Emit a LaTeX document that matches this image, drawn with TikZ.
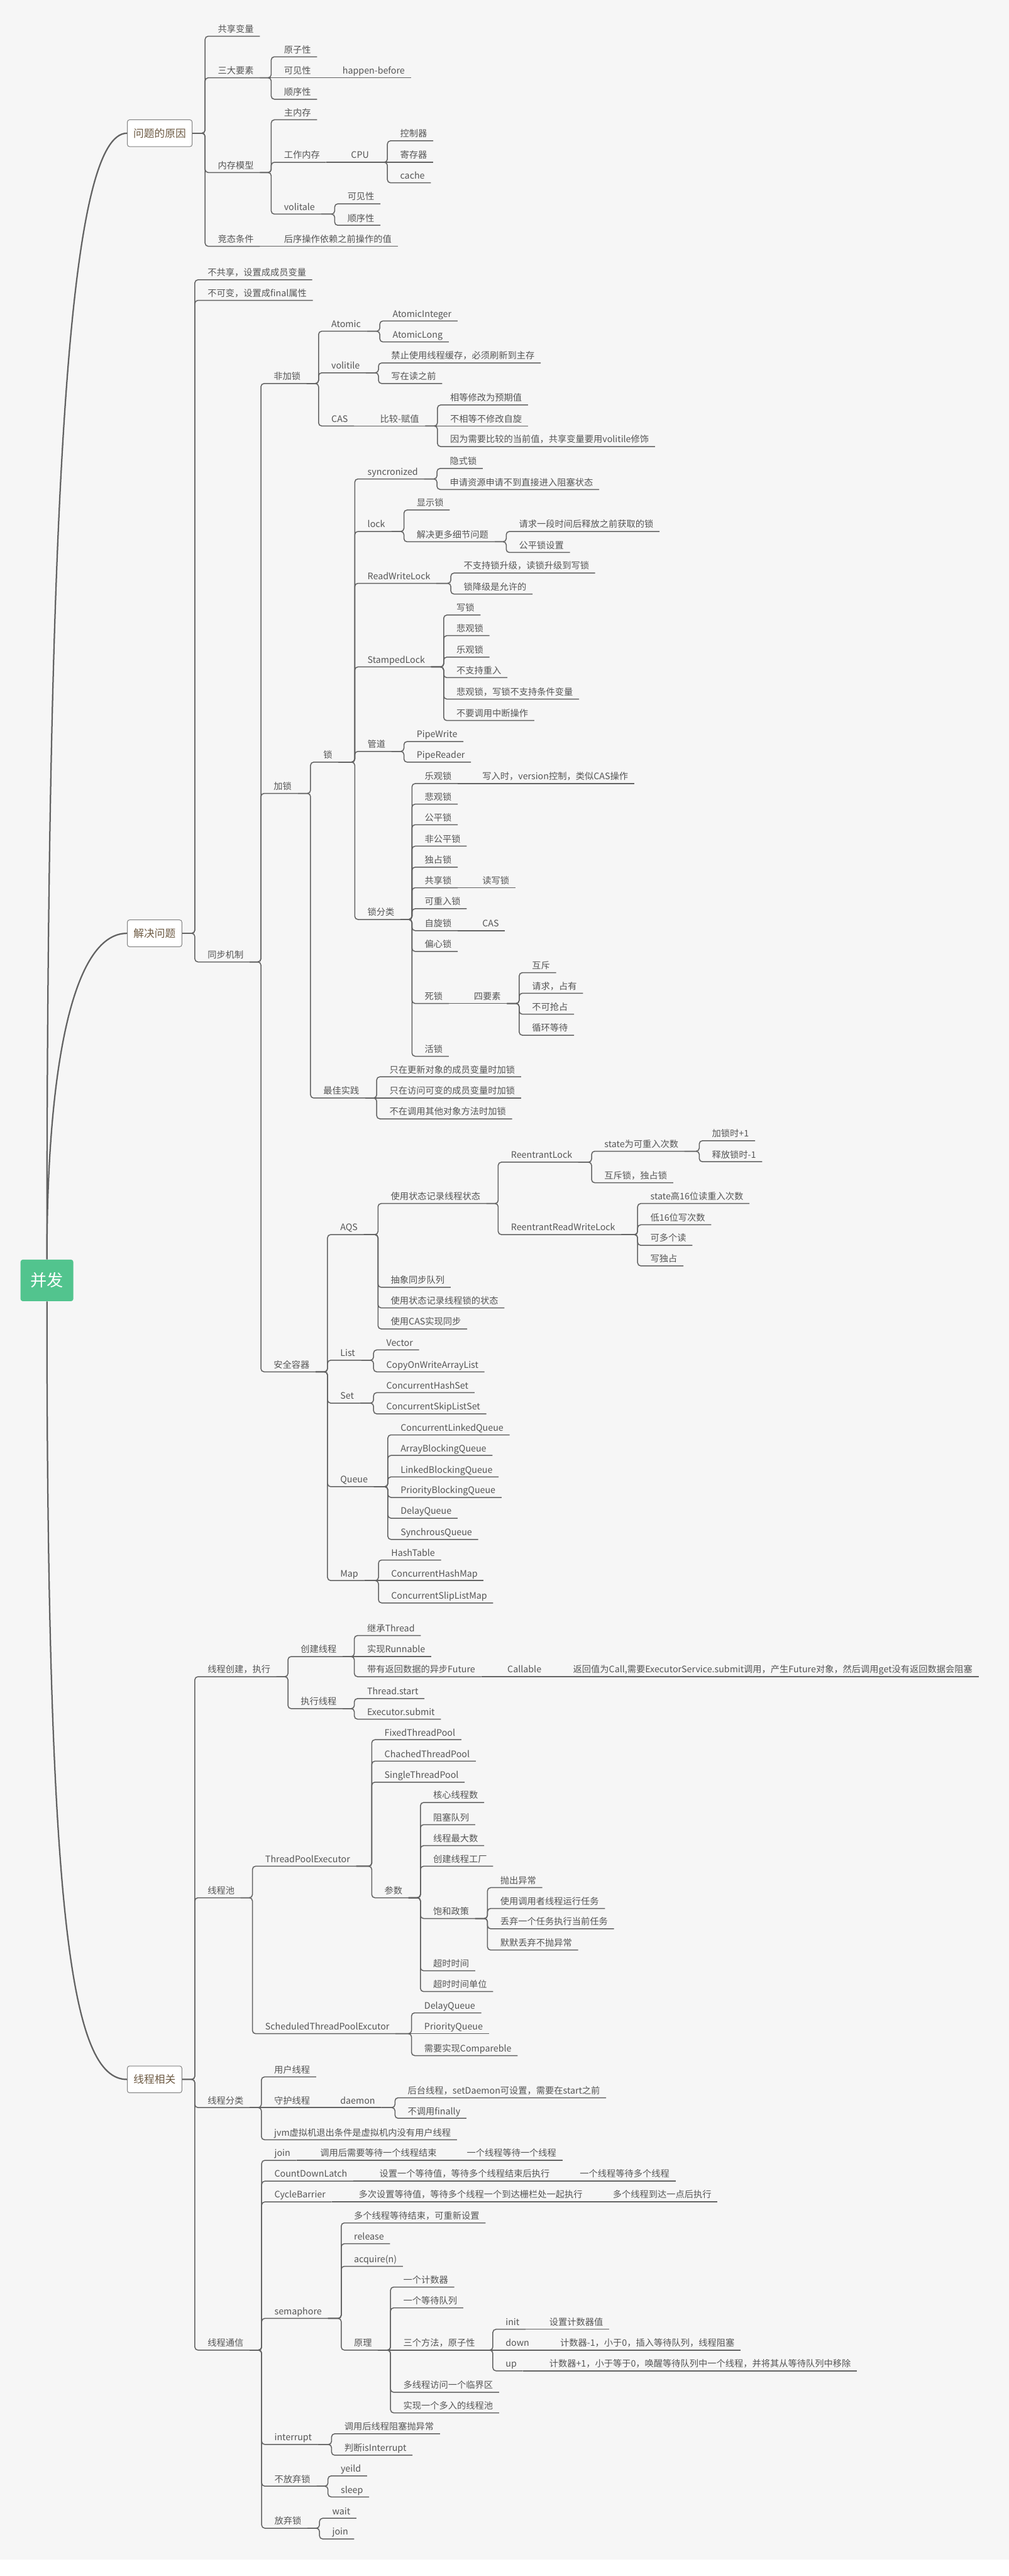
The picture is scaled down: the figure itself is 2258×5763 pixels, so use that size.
\documentclass[tikz,border=0pt]{standalone}
\usepackage{fontspec}
\setmainfont{Noto Sans CJK SC}
\definecolor{bgc}{HTML}{F6F6F6}
\definecolor{lnc}{HTML}{626262}
\definecolor{txc}{HTML}{555555}
\definecolor{brc}{HTML}{6E5B44}
\definecolor{grc}{HTML}{52C48E}
\newlength\pu
\setlength\pu{0.01cm}
\begin{document}
\begin{tikzpicture}[x=0.01cm, y=-0.01cm, every node/.style={font=\fontsize{5.7}{6.8}\selectfont, text=txc},
	lf/.style={anchor=south west, inner xsep=0pt, inner ysep=4\pu, text height=15\pu, text depth=4\pu, execute at begin node={\hspace*{28\pu}}, execute at end node={\hspace*{13\pu}}},
	box/.style={draw=lnc!80, line width=0.4pt, fill=white, rounded corners=5\pu, minimum height=60\pu, font=\fontsize{6.7}{8}\selectfont, text=brc},
	conn/.style={draw=lnc, line width=0.6pt},
	tobar/.style={conn, rounded corners=7\pu, to path={-| (\tikztotarget.south west) -- (\tikztotarget.south east)}},
	toline/.style={conn, to path={-- (\tikztotarget.south east)}},
	trunk/.style={draw=lnc, line width=0.9pt}]
	\useasboundingbox (0,0) rectangle (2258,5763);
	\fill[white] (0,0) rectangle (2258,5763);
	\fill[bgc] (0,0) rectangle (2258,5726);
	\node[fill=grc, rounded corners=5\pu, minimum width=118\pu, minimum height=93\pu, text=white, font=\fontsize{10.5}{12}\selectfont] (bf) at (105,2864.5) {并发};
	\node[box, minimum width=145\pu] (yy) at (357.5,298) {问题的原因};
	\node[box, minimum width=122\pu] (jj) at (346,2088) {解决问题};
	\node[box, minimum width=122\pu] (xc) at (346,4652) {线程相关};
	\draw[trunk] (bf.north) .. controls (105,1000) and (160,298) .. (yy.west);
	\draw[trunk] (bf.north) .. controls (105,2400) and (160,2088) .. (jj.west);
	\draw[trunk] (bf.south) .. controls (105,4300) and (160,4652) .. (xc.west);

	\foreach \n/\y/\t in {y1/81/共享变量, y2/174/三大要素, y3/386/内存模型, y4/551/竞态条件}
		{\node[lf] (\n) at (459,\y) {\t}; \draw[tobar] (yy.east) to (\n);}
	\node[lf] (y4a) at (607,551) {后序操作依赖之前操作的值}; \draw[toline] (y4.south east) to (y4a);
	\foreach \n/\y/\t in {y2a/127/原子性, y2c/222/顺序性}
		{\node[lf] (\n) at (607,\y) {\t}; \draw[tobar] (y2.south east) to (\n);}
	\node[lf] (y2b) at (607,174) {可见性}; \draw[toline] (y2.south east) to (y2b);
	\node[lf] (y2d) at (738,174) {happen-before}; \draw[toline] (y2b.south east) to (y2d);
	\foreach \n/\y/\t in {y3a/268/主内存, y3b/363/工作内存, y3c/479/volitale}
		{\node[lf] (\n) at (607,\y) {\t}; \draw[tobar] (y3.south east) to (\n);}
	\node[lf] (cpu) at (757,363) {CPU}; \draw[toline] (y3b.south east) to (cpu);
	\foreach \n/\y/\t in {cpu1/315/控制器, cpu3/409/cache}
		{\node[lf] (\n) at (867,\y) {\t}; \draw[tobar] (cpu.south east) to (\n);}
	\node[lf] (cpu2) at (867,363) {寄存器}; \draw[toline] (cpu.south east) to (cpu2);
	\foreach \n/\y/\t in {vo1/456/可见性, vo2/504/顺序性}
		{\node[lf] (\n) at (749,\y) {\t}; \draw[tobar] (y3c.south east) to (\n);}

	\foreach \n/\y/\t in {j1/626/不共享，设置成成员变量, j2/672/不可变，设置成final属性, j3/2152/同步机制}
		{\node[lf] (\n) at (436,\y) {\t}; \draw[tobar] (jj.east) to (\n);}
	\foreach \n/\y/\t in {fs/858/非加锁, js/1775/加锁, aq/3069/安全容器}
		{\node[lf] (\n) at (584,\y) {\t}; \draw[tobar] (j3.south east) to (\n);}
	\foreach \n/\y/\t in {fs1/741/Atomic, fs2/834/volitile, fs3/953/CAS}
		{\node[lf] (\n) at (713,\y) {\t}; \draw[tobar] (fs.south east) to (\n);}
	\foreach \n/\y/\t in {at1/718/AtomicInteger, at2/765/AtomicLong}
		{\node[lf] (\n) at (850,\y) {\t}; \draw[tobar] (fs1.south east) to (\n);}
	\foreach \n/\y/\t in {vl1/812/禁止使用线程缓存，必须刷新到主存, vl2/858/写在读之前}
		{\node[lf] (\n) at (847,\y) {\t}; \draw[tobar] (fs2.south east) to (\n);}
	\node[lf] (cas) at (822,953) {比较-赋值}; \draw[toline] (fs3.south east) to (cas);
	\foreach \n/\y/\t in {cas1/906/相等修改为预期值, cas3/999/因为需要比较的当前值，共享变量要用volitile修饰}
		{\node[lf] (\n) at (979,\y) {\t}; \draw[tobar] (cas.south east) to (\n);}
	\node[lf] (cas2) at (979,953) {不相等不修改自旋}; \draw[toline] (cas.south east) to (cas2);
	\foreach \n/\y/\t in {ls/1705/锁, zj/2456.5/最佳实践}
		{\node[lf] (\n) at (695,\y) {\t}; \draw[tobar] (js.south east) to (\n);}
	\foreach \n/\y/\t in {sy/1071.5/syncronized, lk/1189/lock, rw/1305/ReadWriteLock, sl/1492/StampedLock, gd/1681/管道, fl/2057/锁分类}
		{\node[lf] (\n) at (794,\y) {\t}; \draw[tobar] (ls.south east) to (\n);}
	\foreach \n/\y/\t in {sy1/1048/隐式锁, sy2/1095/申请资源申请不到直接进入阻塞状态}
		{\node[lf] (\n) at (978,\y) {\t}; \draw[tobar] (sy.south east) to (\n);}
	\foreach \n/\y/\t in {lk1/1141/显示锁, lk2/1212/解决更多细节问题}
		{\node[lf] (\n) at (904,\y) {\t}; \draw[tobar] (lk.south east) to (\n);}
	\foreach \n/\y/\t in {lk21/1189/请求一段时间后释放之前获取的锁, lk22/1236/公平锁设置}
		{\node[lf] (\n) at (1133,\y) {\t}; \draw[tobar] (lk2.south east) to (\n);}
	\foreach \n/\y/\t in {rw1/1282/不支持锁升级，读锁升级到写锁, rw2/1329/锁降级是允许的}
		{\node[lf] (\n) at (1009,\y) {\t}; \draw[tobar] (rw.south east) to (\n);}
	\foreach \n/\y/\t in {sl1/1376/写锁, sl2/1422/悲观锁, sl3/1470/乐观锁, sl4/1516/不支持重入, sl5/1564/悲观锁，写锁不支持条件变量, sl6/1612/不要调用中断操作}
		{\node[lf] (\n) at (993,\y) {\t}; \draw[tobar] (sl.south east) to (\n);}
	\foreach \n/\y/\t in {gd1/1659/PipeWrite, gd2/1705/PipeReader}
		{\node[lf] (\n) at (904,\y) {\t}; \draw[tobar] (gd.south east) to (\n);}
	\foreach \n/\y/\t in {fl1/1753/乐观锁, fl2/1799/悲观锁, fl3/1845/公平锁, fl4/1893/非公平锁, fl5/1940/独占锁, fl6/1986/共享锁, fl7/2033/可重入锁, fl8/2082/自旋锁, fl9/2128.5/偏心锁, fl10/2245/死锁, fl11/2363/活锁}
		{\node[lf] (\n) at (922,\y) {\t}; \draw[tobar] (fl.south east) to (\n);}
	\node[lf] (fl1a) at (1051,1753) {写入时，version控制，类似CAS操作}; \draw[toline] (fl1.south east) to (fl1a);
	\node[lf] (fl6a) at (1051,1986) {读写锁}; \draw[toline] (fl6.south east) to (fl6a);
	\node[lf] (fl8a) at (1051,2082) {CAS}; \draw[toline] (fl8.south east) to (fl8a);
	\node[lf] (fl10a) at (1032,2245) {四要素}; \draw[toline] (fl10.south east) to (fl10a);
	\foreach \n/\y/\t in {sys1/2176/互斥, sys2/2222/请求，占有, sys3/2269/不可抢占, sys4/2316/循环等待}
		{\node[lf] (\n) at (1162,\y) {\t}; \draw[tobar] (fl10a.south east) to (\n);}
	\foreach \n/\y/\t in {zj1/2409/只在更新对象的成员变量时加锁, zj3/2503/不在调用其他对象方法时加锁}
		{\node[lf] (\n) at (843,\y) {\t}; \draw[tobar] (zj.south east) to (\n);}
	\node[lf] (zj2) at (843,2456.5) {只在访问可变的成员变量时加锁}; \draw[toline] (zj.south east) to (zj2);
	\foreach \n/\y/\t in {aqs/2762/AQS, li/3043/List, se/3139/Set, qu/3326/Queue, mp/3536/Map}
		{\node[lf] (\n) at (733,\y) {\t}; \draw[tobar] (aq.south east) to (\n);}
	\foreach \n/\y/\t in {aqs1/2692.5/使用状态记录线程状态, aqs2/2880/抽象同步队列, aqs3/2926/使用状态记录线程锁的状态, aqs4/2973/使用CAS实现同步}
		{\node[lf] (\n) at (846,\y) {\t}; \draw[tobar] (aqs.south east) to (\n);}
	\foreach \n/\y/\t in {rl/2600/ReentrantLock, rrw/2762/ReentrantReadWriteLock}
		{\node[lf] (\n) at (1115,\y) {\t}; \draw[tobar] (aqs1.south east) to (\n);}
	\foreach \n/\y/\t in {rl1/2575.5/state为可重入次数, rl2/2646/互斥锁，独占锁}
		{\node[lf] (\n) at (1324,\y) {\t}; \draw[tobar] (rl.south east) to (\n);}
	\foreach \n/\y/\t in {rl11/2552/加锁时+1, rl12/2599/释放锁时-1}
		{\node[lf] (\n) at (1565,\y) {\t}; \draw[tobar] (rl1.south east) to (\n);}
	\foreach \n/\y/\t in {rrw1/2692.5/state高16位读重入次数, rrw2/2740/低16位写次数, rrw3/2786/可多个读, rrw4/2832/写独占}
		{\node[lf] (\n) at (1427,\y) {\t}; \draw[tobar] (rrw.south east) to (\n);}
	\foreach \n/\y/\t in {li1/3020/Vector, li2/3069/CopyOnWriteArrayList}
		{\node[lf] (\n) at (836,\y) {\t}; \draw[tobar] (li.south east) to (\n);}
	\foreach \n/\y/\t in {se1/3115.6/ConcurrentHashSet, se2/3163/ConcurrentSkipListSet}
		{\node[lf] (\n) at (836,\y) {\t}; \draw[tobar] (se.south east) to (\n);}
	\foreach \n/\y/\t in {qu1/3210/ConcurrentLinkedQueue, qu2/3256/ArrayBlockingQueue, qu3/3304/LinkedBlockingQueue, qu4/3350/PriorityBlockingQueue, qu5/3396.5/DelayQueue, qu6/3444/SynchrousQueue}
		{\node[lf] (\n) at (868,\y) {\t}; \draw[tobar] (qu.south east) to (\n);}
	\foreach \n/\y/\t in {mp1/3490/HashTable, mp3/3586/ConcurrentSlipListMap}
		{\node[lf] (\n) at (847,\y) {\t}; \draw[tobar] (mp.south east) to (\n);}
	\node[lf] (mp2) at (847,3536) {ConcurrentHashMap}; \draw[toline] (mp.south east) to (mp2);

	\foreach \n/\y/\t in {t1/3751/线程创建，执行, t2/4245.6/线程池, t3/4715/线程分类, t4/5257.6/线程通信}
		{\node[lf] (\n) at (436,\y) {\t}; \draw[tobar] (xc.east) to (\n);}
	\foreach \n/\y/\t in {cj/3706/创建线程, zx/3822.5/执行线程}
		{\node[lf] (\n) at (644.5,\y) {\t}; \draw[tobar] (t1.south east) to (\n);}
	\foreach \n/\y/\t in {cj1/3659/继承Thread, cj3/3751/带有返回数据的异步Future}
		{\node[lf] (\n) at (793,\y) {\t}; \draw[tobar] (cj.south east) to (\n);}
	\node[lf] (cj2) at (793,3706) {实现Runnable}; \draw[toline] (cj.south east) to (cj2);
	\node[lf] (cb) at (1107,3751) {Callable}; \draw[toline] (cj3.south east) to (cb);
	\node[lf] (cbr) at (1254,3751) {返回值为Call,需要ExecutorService.submit调用，产生Future对象，然后调用get没有返回数据会阻塞}; \draw[toline] (cb.south east) to (cbr);
	\foreach \n/\y/\t in {zx1/3800/Thread.start, zx2/3846/Executor.submit}
		{\node[lf] (\n) at (793,\y) {\t}; \draw[tobar] (zx.south east) to (\n);}
	\foreach \n/\y/\t in {tp/4175/ThreadPoolExecutor, stp/4549.7/ScheduledThreadPoolExcutor}
		{\node[lf] (\n) at (565,\y) {\t}; \draw[tobar] (t2.south east) to (\n);}
	\foreach \n/\y/\t in {tp1/3892/FixedThreadPool, tp2/3940/ChachedThreadPool, tp3/3987/SingleThreadPool, cs/4245.6/参数}
		{\node[lf] (\n) at (832,\y) {\t}; \draw[tobar] (tp.south east) to (\n);}
	\foreach \n/\y/\t in {cs1/4032.4/核心线程数, cs2/4082/阻塞队列, cs3/4129/线程最大数, cs4/4175/创建线程工厂, bh/4292/饱和政策, cs6/4409/超时时间, cs7/4455.5/超时时间单位}
		{\node[lf] (\n) at (941,\y) {\t}; \draw[tobar] (cs.south east) to (\n);}
	\foreach \n/\y/\t in {bh1/4223/抛出异常, bh2/4269.5/使用调用者线程运行任务, bh3/4315/丢弃一个任务执行当前任务, bh4/4362.6/默默丢弃不抛异常}
		{\node[lf] (\n) at (1091,\y) {\t}; \draw[tobar] (bh.south east) to (\n);}
	\foreach \n/\y/\t in {stp1/4503/DelayQueue, stp3/4598.7/需要实现Compareble}
		{\node[lf] (\n) at (921,\y) {\t}; \draw[tobar] (stp.south east) to (\n);}
	\node[lf] (stp2) at (921,4549.7) {PriorityQueue}; \draw[toline] (stp.south east) to (stp2);
	\foreach \n/\y/\t in {t31/4646.4/用户线程, t33/4787/jvm虚拟机退出条件是虚拟机内没有用户线程}
		{\node[lf] (\n) at (585,\y) {\t}; \draw[tobar] (t3.south east) to (\n);}
	\node[lf] (t32) at (585,4715) {守护线程}; \draw[toline] (t3.south east) to (t32);
	\node[lf] (dm) at (733,4715) {daemon}; \draw[toline] (t32.south east) to (dm);
	\foreach \n/\y/\t in {dm1/4693/后台线程，setDaemon可设置，需要在start之前, dm2/4739/不调用finally}
		{\node[lf] (\n) at (884,\y) {\t}; \draw[tobar] (dm.south east) to (\n);}
	\foreach \n/\y/\t in {jn/4833/join, cd/4879.6/CountDownLatch, cy/4926/CycleBarrier, sm/5186.6/semaphore, it/5468.7/interrupt, nf/5562/不放弃锁, fq/5656/放弃锁}
		{\node[lf] (\n) at (585.6,\y) {\t}; \draw[tobar] (t4.south east) to (\n);}
	\node[lf] (jn1) at (688,4833) {调用后需要等待一个线程结束}; \draw[toline] (jn.south east) to (jn1);
	\node[lf] (jn2) at (1016,4833) {一个线程等待一个线程}; \draw[toline] (jn1.south east) to (jn2);
	\node[lf] (cd1) at (820.5,4879.6) {设置一个等待值，等待多个线程结束后执行}; \draw[toline] (cd.south east) to (cd1);
	\node[lf] (cd2) at (1269,4879.6) {一个线程等待多个线程}; \draw[toline] (cd1.south east) to (cd2);
	\node[lf] (cy1) at (774,4926) {多次设置等待值，等待多个线程一个到达栅栏处一起执行}; \draw[toline] (cy.south east) to (cy1);
	\node[lf] (cy2) at (1343,4926) {多个线程到达一点后执行}; \draw[toline] (cy1.south east) to (cy2);
	\foreach \n/\y/\t in {sm1/4973/多个线程等待结束，可重新设置, sm2/5019.5/release, sm3/5070/acquire(n), yl/5257.6/原理}
		{\node[lf] (\n) at (763.7,\y) {\t}; \draw[tobar] (sm.south east) to (\n);}
	\foreach \n/\y/\t in {yl1/5116.5/一个计数器, yl2/5163/一个等待队列, yl4/5352/多线程访问一个临界区, yl5/5398/实现一个多入的线程池}
		{\node[lf] (\n) at (874,\y) {\t}; \draw[tobar] (yl.south east) to (\n);}
	\node[lf] (yl3) at (874,5257.6) {三个方法，原子性}; \draw[toline] (yl.south east) to (yl3);
	\foreach \n/\y/\t in {ff1/5211/init, ff3/5304/up}
		{\node[lf] (\n) at (1103,\y) {\t}; \draw[tobar] (yl3.south east) to (\n);}
	\node[lf] (ff2) at (1103,5257.6) {down}; \draw[toline] (yl3.south east) to (ff2);
	\node[lf] (ff1a) at (1200.7,5211) {设置计数器值}; \draw[toline] (ff1.south east) to (ff1a);
	\node[lf] (ff2a) at (1225,5257.6) {计数器-1，小于0，插入等待队列，线程阻塞}; \draw[toline] (ff2.south east) to (ff2a);
	\node[lf] (ff3a) at (1200.7,5304) {计数器+1，小于等于0，唤醒等待队列中一个线程，并将其从等待队列中移除}; \draw[toline] (ff3.south east) to (ff3a);
	\foreach \n/\y/\t in {it1/5444.8/调用后线程阻塞抛异常, it2/5492.7/判断isInterrupt}
		{\node[lf] (\n) at (742,\y) {\t}; \draw[tobar] (it.south east) to (\n);}
	\foreach \n/\y/\t in {nf1/5539/yeild, nf2/5586/sleep}
		{\node[lf] (\n) at (734,\y) {\t}; \draw[tobar] (nf.south east) to (\n);}
	\foreach \n/\y/\t in {fq1/5633.8/wait, fq2/5680/join}
		{\node[lf] (\n) at (715,\y) {\t}; \draw[tobar] (fq.south east) to (\n);}
\end{tikzpicture}
\end{document}
